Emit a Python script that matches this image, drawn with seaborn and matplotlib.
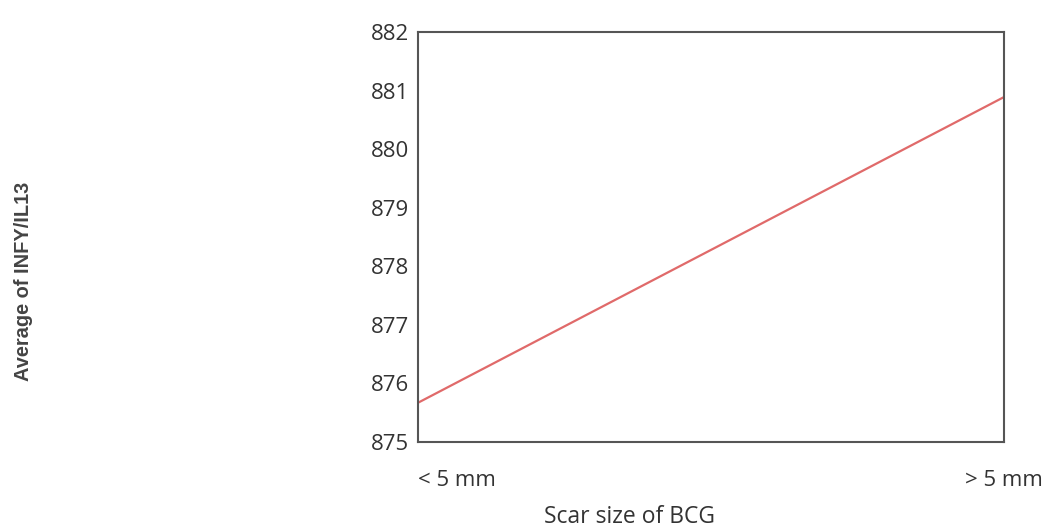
import pandas as pd
import matplotlib
matplotlib.use('Agg')
import matplotlib.pyplot as plt
import matplotlib.transforms as mtransforms
import seaborn as sns

# Dados
categorias = ['< 5 mm', '> 5 mm']
media_infy_il13 = [875.67, 880.89]
y_ticks = [875, 876, 877, 878, 879, 880, 881, 882]

df = pd.DataFrame({'pos': range(len(categorias)), 'valor': media_infy_il13})

sns.set_style('white')
plt.rcParams['font.family'] = ['Open Sans', 'DejaVu Sans']

fig = plt.figure(figsize=(10.59, 5.31), dpi=100)
ax = fig.add_axes([0.3947, 0.1676, 0.5533, 0.772])

sns.lineplot(data=df, x='pos', y='valor', ax=ax, color='#e06a6a', linewidth=1.6)

ax.set_xlim(0, 1)
ax.set_ylim(875, 882)
ax.set_yticks(y_ticks)
ax.set_yticklabels([str(v) for v in y_ticks], fontsize=16, color='#333333')
ax.set_xticks(df['pos'])
labels = ax.set_xticklabels(categorias, fontsize=16, color='#333333')
labels[0].set_ha('left')
labels[1].set_transform(labels[1].get_transform() +
                        mtransforms.ScaledTranslation(0.1, 0, fig.dpi_scale_trans))
ax.tick_params(axis='y', length=3, width=1.5, direction='inout', colors='#333333', pad=5)
ax.tick_params(axis='x', length=0, pad=20)
for lab in ax.get_yticklabels():
    lab.set_color('#333333')

for s in ax.spines.values():
    s.set_color('#555555')
    s.set_linewidth(1.5)

ax.set_xlabel('')
ax.set_ylabel('')
fig.text(0.594, 0.004, 'Scar size of BCG', fontsize=16.5, color='#333333',
         ha='center', va='bottom')
fig.text(0.022, 0.47, 'Average of INFY/IL13', rotation=90, fontsize=14.4,
         fontweight='bold', family='Liberation Sans', color='#444444',
         ha='center', va='center')

plt.savefig('out.png', dpi=100)
plt.close()
